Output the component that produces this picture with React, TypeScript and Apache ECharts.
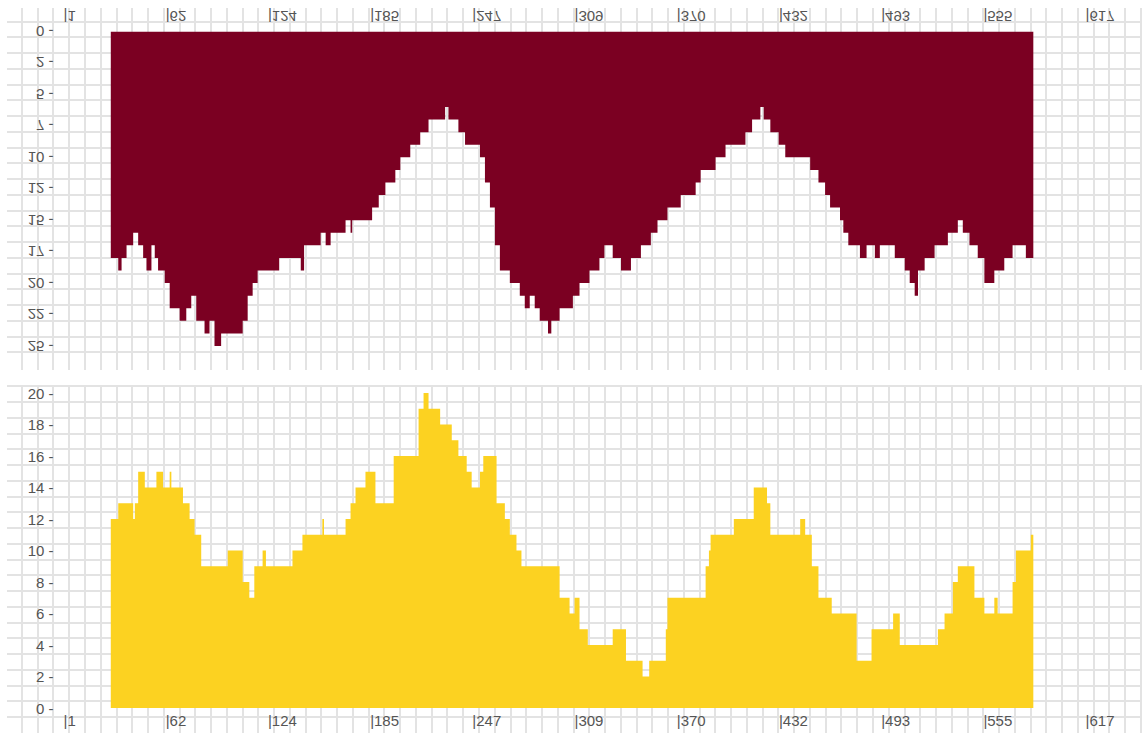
import React, { useEffect, useRef } from "react";
import * as echarts from "echarts";

// ---- axis settings (category positions 1..651, labels every 61.6) ----
const X_MIN = 1;
const X_MAX = 651;
const X_LABEL_STEP = 61.6;
const DEPTH_MAX = 25;
const DEPTH_STEP = 2.5;
const COUNT_MAX = 20;
const COUNT_STEP = 2;

// ---- top series: [position where value starts, value] ----
const depthSteps: [number, number][] = [
  [29.5, 18], [34, 19], [36, 18], [39, 17], [43, 16], [46, 17], [49, 18], [51, 19],
  [54, 17], [56, 18], [58, 19], [62, 20], [65, 22], [71, 23], [75, 22], [78, 21],
  [81, 23], [86, 24], [89, 23], [92, 25], [96, 24], [109, 23], [112, 21], [115, 20],
  [118, 19], [131, 18], [144, 19], [146, 17], [156, 16], [159, 17], [162, 16], [171, 15],
  [174, 16], [175, 15], [187, 14], [191, 13], [195, 12], [201, 11], [204, 10], [210, 9],
  [216, 8], [221, 7], [231, 6], [233, 7], [239, 8], [243, 9], [252, 10], [255, 12],
  [258, 14], [261, 17], [264, 19], [270, 20], [276, 21], [279, 22], [282, 21], [285, 22],
  [288, 23], [293, 24], [295, 23], [300, 22], [308, 21], [312, 20], [318, 19], [324, 18],
  [327, 17], [332, 18], [337, 19], [343, 18], [349, 17], [355, 16], [359, 15], [365, 14],
  [373, 13], [382, 12], [385, 11], [394, 10], [400, 9], [412, 8], [416, 7], [421, 6],
  [423, 7], [427, 8], [432, 9], [436, 10], [451, 11], [456, 12], [460, 13], [463, 14],
  [469, 15], [471, 16], [474, 17], [481, 18], [485, 17], [490, 18], [493, 17], [502, 18],
  [508, 19], [511, 20], [514, 21], [516, 19], [520, 18], [526, 17], [534, 16], [540, 15],
  [543, 16], [547, 17], [552, 18], [556, 20], [562, 19], [568, 18], [573, 17], [581, 18],
  [585.5, 18],
];

// ---- bottom series: [position where value starts, value] ----
const countSteps: [number, number][] = [
  [29.5, 12], [34, 13], [43, 12], [44, 13], [46, 15], [50, 14], [57, 15], [61, 14],
  [65, 15], [66, 14], [73, 13], [77, 12], [80, 11], [84, 9], [100, 10], [109, 8],
  [113, 7], [116, 9], [121, 10], [123, 9], [139, 10], [145, 11], [157, 12], [158, 11],
  [171, 12], [174, 13], [177, 14], [183, 15], [189, 13], [200, 16], [215, 19], [218, 20],
  [221, 19], [228, 18], [235, 17], [239, 16], [244, 15], [247, 14], [252, 15], [254, 16],
  [262, 13], [267, 12], [270, 11], [274, 10], [277, 9], [300, 7], [306, 6], [309, 7],
  [312, 5], [317, 4], [332, 5], [340, 3], [350, 2], [354, 3], [364, 5], [365, 7],
  [388, 9], [390, 10], [391, 11], [405, 12], [417, 14], [425, 13], [427, 11], [445, 12],
  [448, 11], [452, 9], [456, 7], [464, 6], [479, 3], [488, 5], [501, 6], [505, 4],
  [528, 5], [532, 6], [537, 8], [540, 9], [550, 7], [556, 6], [562, 7], [564, 6],
  [573, 8], [575, 10], [584, 11], [585.5, 11],
];

const LABEL_FONT = {
  fontFamily: "'Liberation Sans', Arial, sans-serif",
  fontSize: 15,
  color: "#555555",
};
const GRID_LINE = { color: "#e3e3e3", width: 2 };

type Box = { left: number; top: number; width: number; height: number };

function buildOption(cfg: {
  plot: Box;
  xLabelMargin: number;
  yMax: number;
  yStep: number;
  steps: [number, number][];
  color: string;
  hLines: Box & { count: number };
  vLines: Box & { count: number };
}) {
  const { plot, hLines, vLines } = cfg;
  return {
    animation: false,
    grid: [
      { left: plot.left, top: plot.top, width: plot.width, height: plot.height },
      { left: hLines.left, top: hLines.top, width: hLines.width, height: hLines.height },
      { left: vLines.left, top: vLines.top, width: vLines.width, height: vLines.height },
    ],
    xAxis: [
      {
        type: "value",
        gridIndex: 0,
        min: X_MIN,
        max: X_MAX,
        interval: X_LABEL_STEP,
        axisLine: { show: false },
        axisTick: { show: false },
        splitLine: { show: false },
        axisLabel: {
          ...LABEL_FONT,
          align: "left",
          margin: cfg.xLabelMargin,
          showMaxLabel: false,
          formatter: (v: number) => "|" + Math.floor(v + 1e-6),
        },
      },
      { type: "value", gridIndex: 1, show: false, min: 0, max: 1 },
      {
        type: "value",
        gridIndex: 2,
        min: 0,
        max: vLines.count,
        interval: 1,
        axisLine: { show: false },
        axisTick: { show: false },
        axisLabel: { show: false },
        splitLine: { show: true, lineStyle: GRID_LINE },
      },
    ],
    yAxis: [
      {
        type: "value",
        gridIndex: 0,
        min: 0,
        max: cfg.yMax,
        interval: cfg.yStep,
        axisLine: { show: false },
        axisTick: { show: false },
        splitLine: { show: false },
        axisLabel: {
          ...LABEL_FONT,
          margin: 10,
          formatter: (v: number) => Math.floor(v + 1e-6) + " -",
        },
      },
      {
        type: "value",
        gridIndex: 1,
        min: 0,
        max: hLines.count,
        interval: 1,
        axisLine: { show: false },
        axisTick: { show: false },
        axisLabel: { show: false },
        splitLine: { show: true, lineStyle: GRID_LINE },
      },
      { type: "value", gridIndex: 2, show: false, min: 0, max: 1 },
    ],
    series: [
      {
        type: "line",
        xAxisIndex: 0,
        yAxisIndex: 0,
        step: "end",
        symbol: "none",
        data: cfg.steps,
        lineStyle: { width: 0, opacity: 0 },
        areaStyle: { color: cfg.color, opacity: 1 },
        z: 5,
      },
    ],
  };
}

function ChartBox(props: { style: React.CSSProperties; option: any }) {
  const ref = useRef<HTMLDivElement>(null);
  useEffect(() => {
    if (!ref.current) return;
    const chart = echarts.init(ref.current, undefined, { renderer: "svg" });
    chart.setOption(props.option);
    return () => chart.dispose();
  }, []);
  return <div ref={ref} style={props.style} />;
}

const CELL = 15.76;

export default function App() {
  // top chart is drawn upright and mirrored vertically (as in the reference)
  const topOption = buildOption({
    plot: { left: 63.5, top: 34, width: 1078.5, height: 314.5 },
    xLabelMargin: 8,
    yMax: DEPTH_MAX,
    yStep: DEPTH_STEP,
    steps: depthSteps,
    color: "#7b0022",
    hLines: { left: 7, top: 27.25, width: 1135, height: 21 * CELL, count: 21 },
    vLines: { left: 21.7, top: 10, width: 71 * CELL, height: 362, count: 71 },
  });
  const bottomOption = buildOption({
    plot: { left: 63.5, top: 13, width: 1078.5, height: 315 },
    xLabelMargin: 5,
    yMax: COUNT_MAX,
    yStep: COUNT_STEP,
    steps: countSteps,
    color: "#fcd221",
    hLines: { left: 7, top: 6, width: 1135, height: 21 * CELL, count: 21 },
    vLines: { left: 21.7, top: 6, width: 71 * CELL, height: 347, count: 71 },
  });
  return (
    <div style={{ position: "absolute", left: 0, top: 0, width: 1142, height: 733, background: "#fff", overflow: "hidden" }}>
      <ChartBox
        option={topOption}
        style={{ position: "absolute", left: 0, top: 0, width: 1142, height: 380, transform: "scaleY(-1)" }}
      />
      <ChartBox
        option={bottomOption}
        style={{ position: "absolute", left: 0, top: 380, width: 1142, height: 353 }}
      />
    </div>
  );
}
